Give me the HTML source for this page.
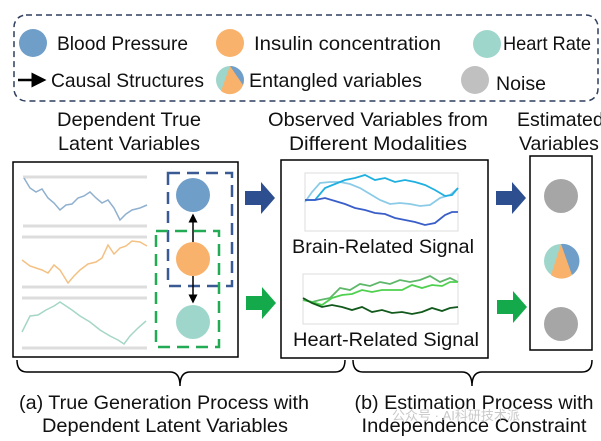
<!DOCTYPE html><html><head><style>body{margin:0;background:#fff}svg{display:block}text{font-family:"Liberation Sans",sans-serif;fill:#111}</style></head><body>
<svg width="601" height="441" viewBox="0 0 601 441" xmlns="http://www.w3.org/2000/svg">
<defs><marker id="ah" markerWidth="6" markerHeight="6" refX="5" refY="3" orient="auto"><path d="M0,0L6,3L0,6z" fill="#000"/></marker></defs>
<rect x="14" y="15" width="584" height="86" rx="12" fill="none" stroke="#2f3f5f" stroke-width="1.5" stroke-dasharray="6,4"/>
<g font-size="19.5">
<circle cx="33" cy="43" r="14" fill="#6f9ec8"/><text x="57" y="50" textLength="131" lengthAdjust="spacingAndGlyphs">Blood Pressure</text>
<circle cx="230" cy="43" r="14" fill="#f9b26b"/><text x="254" y="50" textLength="187" lengthAdjust="spacingAndGlyphs">Insulin concentration</text>
<circle cx="487" cy="44" r="14" fill="#9fd6cc"/><text x="503" y="50" textLength="88" lengthAdjust="spacingAndGlyphs">Heart Rate</text>
<line x1="18" y1="80" x2="44" y2="80" stroke="#000" stroke-width="2.5" marker-end="url(#ah)"/><text x="51" y="87" textLength="153" lengthAdjust="spacingAndGlyphs">Causal Structures</text>
<circle cx="230" cy="80" r="14" fill="#9fd6cc"/><path d="M230,80L230,66A14,14 0 0 1 243,85Z" fill="#6f9ec8"/><path d="M230,66L243,85A14,14 0 0 1 221,91Z" fill="#f9b26b"/>
<text x="249" y="87" textLength="173" lengthAdjust="spacingAndGlyphs">Entangled variables</text>
<circle cx="475" cy="80" r="14" fill="#c0c0c0"/><text x="496" y="90" textLength="50" lengthAdjust="spacingAndGlyphs">Noise</text>
<text x="129" y="126" text-anchor="middle" textLength="144" lengthAdjust="spacingAndGlyphs">Dependent True</text><text x="129" y="150" text-anchor="middle" textLength="142" lengthAdjust="spacingAndGlyphs">Latent Variables</text>
<text x="378" y="126" text-anchor="middle" textLength="220" lengthAdjust="spacingAndGlyphs">Observed Variables from</text><text x="378" y="150" text-anchor="middle" textLength="178" lengthAdjust="spacingAndGlyphs">Different Modalities</text>
<text x="517" y="126">Estimated</text><text x="519" y="150">Variables</text>
</g>
<rect x="13" y="162" width="225" height="195" fill="none" stroke="#000" stroke-width="1.5"/>
<g fill="none" stroke-width="1.5">
<line x1="23" y1="177" x2="147" y2="177" stroke="#ddd" stroke-width="3"/><line x1="23" y1="226" x2="147" y2="226" stroke="#ddd" stroke-width="3"/>
<polyline stroke="#8fb0cf" points="24,178 30,188 36,192 42,189 48,198 54,203 60,210 66,205 72,204 78,198 84,196 90,192 96,198 102,203 108,200 114,208 120,220 126,214 132,210 140,208 147,205"/>
<line x1="22" y1="237" x2="147" y2="237" stroke="#ddd" stroke-width="3"/><line x1="22" y1="287" x2="147" y2="287" stroke="#ddd" stroke-width="3"/>
<polyline stroke="#f4c184" points="22,260 30,266 36,268 42,270 48,273 54,265 60,270 68,283 74,276 80,270 88,264 96,262 102,258 108,245 114,254 120,248 126,246 132,241 140,242 147,246"/>
<line x1="22" y1="298" x2="147" y2="298" stroke="#ddd" stroke-width="3"/><line x1="22" y1="348" x2="147" y2="348" stroke="#ddd" stroke-width="3"/>
<polyline stroke="#a5d6c6" points="22,332 30,316 38,315 46,310 54,306 60,302 66,306 72,310 80,316 90,322 100,330 110,336 118,340 124,344 130,336 138,328 146,321"/>
</g>
<rect x="168" y="173" width="64" height="113" fill="none" stroke="#3a5a95" stroke-width="2.5" stroke-dasharray="12,7"/>
<rect x="156" y="231" width="63" height="116" fill="none" stroke="#22aa55" stroke-width="2.5" stroke-dasharray="12,7"/>
<circle cx="193" cy="195" r="17" fill="#6f9ec8"/><circle cx="193" cy="259" r="17" fill="#f9b26b"/><circle cx="193" cy="322" r="17" fill="#9fd6cc"/>
<line x1="193" y1="242" x2="193" y2="215" stroke="#000" stroke-width="1.5" marker-end="url(#ah)"/>
<line x1="193" y1="276" x2="193" y2="302" stroke="#000" stroke-width="1.5" marker-end="url(#ah)"/>
<path d="M245,191h16v-9l14,16l-14,16v-9h-16z" fill="#2d4f8f"/>
<path d="M246,296h16v-9l14,16l-14,16v-9h-16z" fill="#14aa4c"/>
<path d="M496,191h16v-9l14,16l-14,16v-9h-16z" fill="#2d4f8f"/>
<path d="M497,300h16v-9l14,16l-14,16v-9h-16z" fill="#14aa4c"/>
<rect x="281" y="160" width="207" height="198" fill="none" stroke="#000" stroke-width="1.5"/>
<rect x="305" y="173" width="153" height="58" fill="none" stroke="#ddd"/>
<g fill="none" stroke-width="1.8">
<polyline stroke="#8ccbe8" points="305,202 312,192 320,183 330,182 340,182 350,184 360,188 370,194 380,200 390,204 400,203 410,204 420,206 430,205 440,198 450,195 458,188"/>
<polyline stroke="#1fb0e0" points="305,200 315,200 325,188 335,184 345,180 355,178 365,175 375,180 385,178 395,182 405,180 415,182 425,185 435,190 445,196 452,195 458,188"/>
<polyline stroke="#3a5ec8" points="305,200 315,200 325,198 335,201 345,204 355,208 365,210 375,213 385,214 395,218 405,220 415,222 425,225 435,223 445,215 452,212 458,212"/>
</g>
<rect x="303" y="274" width="155" height="50" fill="none" stroke="#ddd"/>
<g fill="none" stroke-width="1.8">
<polyline stroke="#5fb86a" points="303,300 312,302 320,300 330,298 340,288 350,290 360,284 370,286 380,282 390,284 400,280 410,282 420,280 430,276 440,282 450,278 458,282"/>
<polyline stroke="#4fd04f" points="303,300 312,302 322,305 332,298 342,295 352,294 362,290 372,292 382,290 392,290 402,290 412,285 422,288 432,285 442,286 450,282 458,282"/>
<polyline stroke="#125a1c" points="303,298 312,303 322,307 332,305 342,307 352,310 362,307 372,312 382,310 392,313 402,312 412,314 422,312 432,308 442,311 450,308 458,307"/>
</g>
<text x="383" y="253" font-size="19.5" text-anchor="middle" textLength="182" lengthAdjust="spacingAndGlyphs">Brain-Related Signal</text>
<text x="386" y="346" font-size="19.5" text-anchor="middle" textLength="186" lengthAdjust="spacingAndGlyphs">Heart-Related Signal</text>
<rect x="530" y="156" width="62" height="194" fill="none" stroke="#000" stroke-width="1.5"/>
<circle cx="561" cy="196" r="17" fill="#a6a6a6"/>
<circle cx="561" cy="261" r="17" fill="#9fd6cc"/><path d="M561,261L561,244A17,17 0 0 1 572,275Z" fill="#6f9ec8"/><path d="M561,244L572,275A17,17 0 0 1 551,275Z" fill="#f9b26b"/>
<circle cx="561" cy="324" r="17" fill="#a6a6a6"/>
<path d="M17,360q0,12 10,12h143q10,0 10,14q0,-14 10,-14h145q10,0 10,-12" fill="none" stroke="#000" stroke-width="1.5"/>
<path d="M353,360q0,12 10,12h99q10,0 10,14q0,-14 10,-14h100q10,0 10,-12" fill="none" stroke="#000" stroke-width="1.5"/>
<text x="164" y="409" font-size="19.5" text-anchor="middle" textLength="290" lengthAdjust="spacingAndGlyphs">(a) True Generation Process with</text>
<text x="165" y="432" font-size="19.5" text-anchor="middle" textLength="246" lengthAdjust="spacingAndGlyphs">Dependent Latent Variables</text>
<text x="474" y="409" font-size="19.5" text-anchor="middle" textLength="239" lengthAdjust="spacingAndGlyphs">(b) Estimation Process with</text>
<text x="474" y="432" font-size="19.5" text-anchor="middle" textLength="225" lengthAdjust="spacingAndGlyphs">Independence Constraint</text>
<text x="392" y="420" font-size="13" style="fill:#bbb;opacity:.8">公众号 · AI科研技术派</text>
</svg></body></html>
